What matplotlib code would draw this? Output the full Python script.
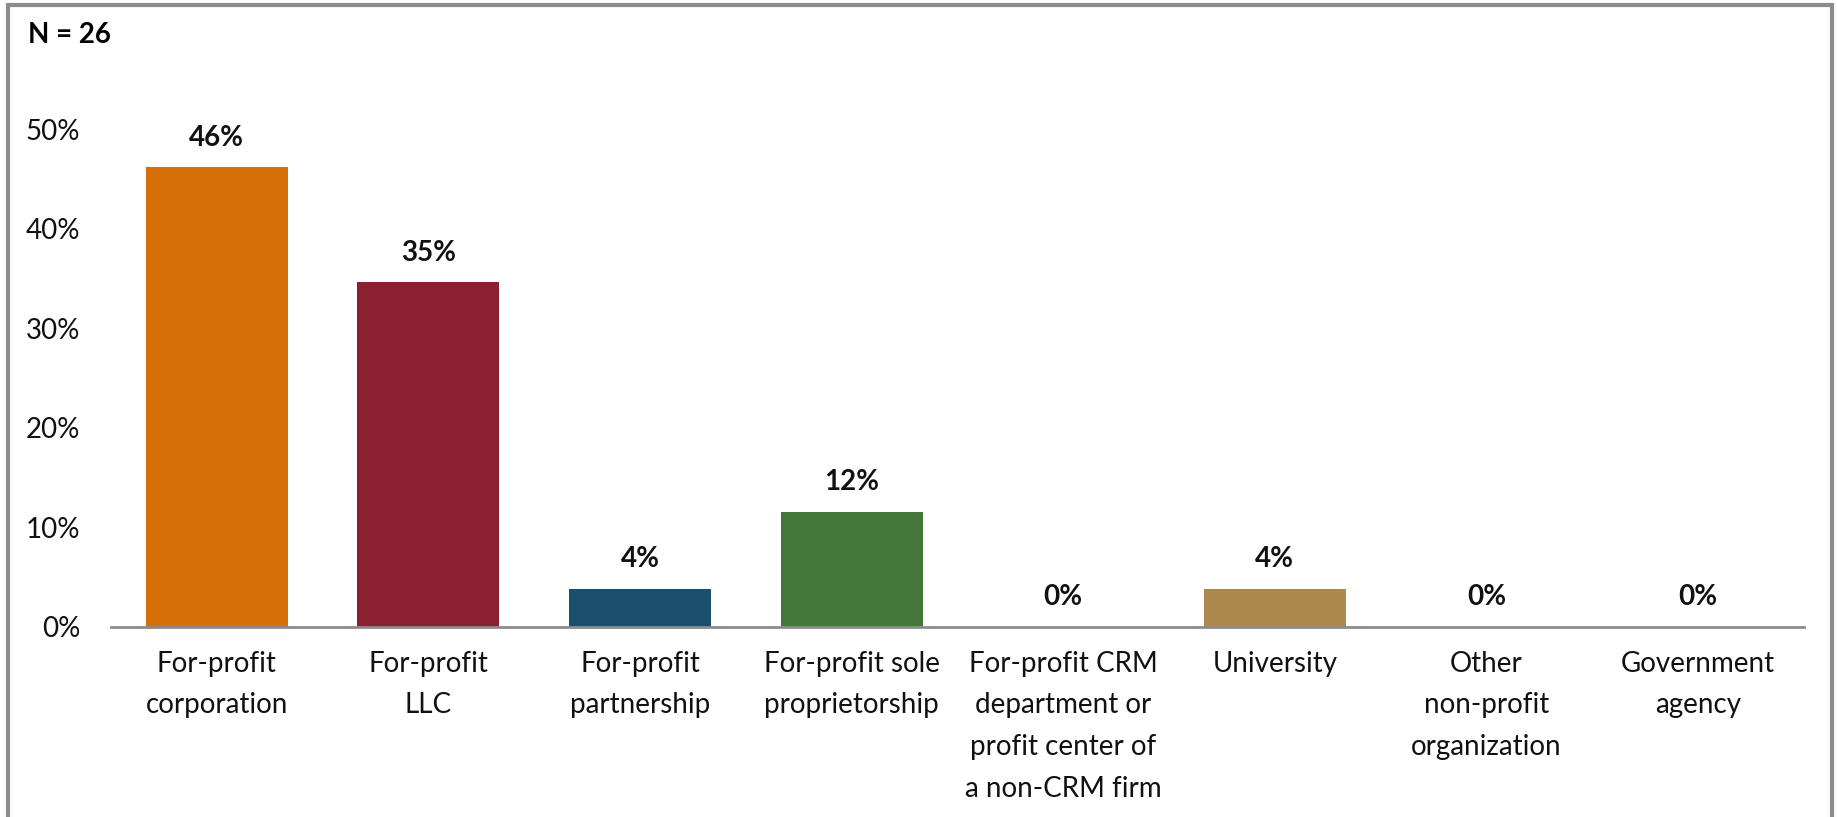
import matplotlib.pyplot as plt
from matplotlib.patches import Rectangle
from matplotlib.ticker import PercentFormatter

categories = ['For-profit\ncorporation', 'For-profit\nLLC', 'For-profit\npartnership',
              'For-profit sole\nproprietorship', 'For-profit CRM\ndepartment or\nprofit center of\na non-CRM firm',
              'University', 'Other\nnon-profit\norganization', 'Government\nagency']
counts = [12, 9, 1, 3, 0, 1, 0, 0]
n_total = 26
shares = [c / n_total for c in counts]
colors = ['#D56F06', '#8B2030', '#1A4E6E', '#43773A', '#D56F06', '#AD884F', '#D56F06', '#D56F06']

plt.rcParams['font.family'] = ['Lato', 'DejaVu Sans']

fig = plt.figure(figsize=(18.37, 8.17), dpi=100)
ax = fig.add_axes([0.0604, 0.2326, 0.9216, 0.6095])

x = range(len(categories))
bars = ax.bar(x, shares, width=0.67, color=colors)
for xi, s in zip(x, shares):
    ax.annotate(f'{s:.0%}', (xi, s), xytext=(0, 12), textcoords='offset points',
                ha='center', va='bottom', fontsize=20, fontweight='bold', color='#111111')

ax.set_xlim(-0.5, len(categories) - 0.5)
ax.set_ylim(0, 0.5)
ax.set_yticks([0, 0.1, 0.2, 0.3, 0.4, 0.5])
ax.yaxis.set_major_formatter(PercentFormatter(1.0, decimals=0))
ax.set_xticks(list(x))
ax.set_xticklabels(categories, fontsize=20, color='#111111', linespacing=1.75)
ax.tick_params(axis='y', length=0, pad=22, labelsize=20, labelcolor='#111111')
ax.tick_params(axis='x', length=0, pad=17)
for side in ['top', 'right', 'left']:
    ax.spines[side].set_visible(False)
ax.spines['bottom'].set_color('#8C8C8C')
ax.spines['bottom'].set_linewidth(2)

fig.text(28 / 1837, 1 - 35 / 817, 'N = 26', fontsize=20, fontweight='bold', va='center', ha='left')

frame = Rectangle((8 / 1837, -0.1), (1832 - 8) / 1837, 1.1 - 5 / 817, transform=fig.transFigure,
                  fill=False, edgecolor='#8C8C8C', linewidth=3)
fig.patches.append(frame)

fig.savefig('out.png', dpi=100)
